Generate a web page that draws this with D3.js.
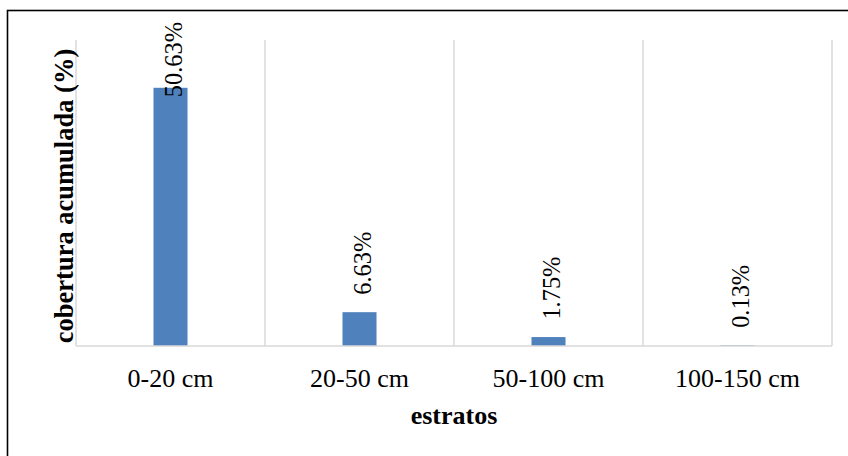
<!DOCTYPE html>
<html>
<head>
<meta charset="utf-8">
<script src="https://cdn.jsdelivr.net/npm/d3@7"></script>
<style>
  html, body { margin: 0; padding: 0; background: #fff; }
  svg { display: block; }
  text { font-family: "Liberation Serif", "Times New Roman", serif; fill: #000; }
</style>
</head>
<body>
<svg id="chart" width="848" height="456"></svg>
<script>
// Cumulative cover per height stratum
const categories = ["0-20 cm", "20-50 cm", "50-100 cm", "100-150 cm"];
const values = [50.63, 6.63, 1.75, 0.13];
const valueLabels = ["50.63%", "6.63%", "1.75%", "0.13%"];
const yDomain = [0, 60];
const xTitle = "estratos";
const yTitle = "cobertura acumulada (%)";

const serif = "'Liberation Serif', 'Times New Roman', serif";
const svg = d3.select("#chart");
const plot = { left: 76, right: 832, top: 40, bottom: 346 };

// Outer frame (runs off the right and bottom edges)
svg.append("rect")
  .attr("x", 7.5).attr("y", 10.5)
  .attr("width", 900).attr("height", 500)
  .attr("fill", "none").attr("stroke", "#000").attr("stroke-width", 1.6);

const xCat = d3.scaleBand().domain(categories).range([plot.left, plot.right]).padding(0);
const xBar = d3.scaleBand().domain(categories).range([plot.left, plot.right])
  .paddingInner(0.82).paddingOuter(0.41);
const y = d3.scaleLinear().domain(yDomain).range([plot.bottom, plot.top]);

// Vertical category separators
const bounds = categories.map(c => xCat(c)).concat([xCat(categories[categories.length - 1]) + xCat.bandwidth()]);
svg.append("g").selectAll("line").data(bounds).join("line")
  .attr("x1", d => d).attr("x2", d => d)
  .attr("y1", plot.top).attr("y2", plot.bottom)
  .attr("stroke", "#d9d9d9").attr("stroke-width", 1.5);

// Bars
svg.append("g").selectAll("rect").data(values).join("rect")
  .attr("x", (d, i) => xBar(categories[i]))
  .attr("width", xBar.bandwidth())
  .attr("y", d => y(d))
  .attr("height", d => y(0) - y(d))
  .attr("fill", "#4f81bd");

// Baseline drawn over the bars
svg.append("line")
  .attr("x1", plot.left).attr("x2", plot.right)
  .attr("y1", y(0)).attr("y2", y(0))
  .attr("stroke", "#d9d9d9").attr("stroke-width", 1.5);

// Rotated value labels above each bar, kept inside the frame
const labelSize = 24.4;
const labels = svg.append("g").selectAll("text").data(values).join("text")
  .attr("font-family", serif)
  .attr("font-size", labelSize)
  .attr("text-anchor", "start")
  .text((d, i) => valueLabels[i]);
labels.each(function (d, i) {
  const len = this.getComputedTextLength();
  const cx = xCat(categories[i]) + xCat.bandwidth() / 2 + 11;
  const start = Math.max(y(d) - 17.5, 22 + len);
  d3.select(this).attr("transform", `translate(${cx},${start}) rotate(-90)`);
});

// Category axis
const xAxis = svg.append("g")
  .attr("transform", `translate(0,387)`)
  .call(d3.axisBottom(xCat).tickSize(0).tickPadding(0));
xAxis.attr("font-family", serif);
xAxis.select(".domain").remove();
xAxis.selectAll("text")
  .attr("y", 0).attr("dy", 0)
  .attr("font-size", 26)
  .attr("fill", "#000");

// Axis titles
svg.append("text")
  .attr("x", (plot.left + plot.right) / 2).attr("y", 424)
  .attr("text-anchor", "middle")
  .attr("font-family", serif)
  .attr("font-size", 26).attr("font-weight", "bold")
  .text(xTitle);

svg.append("text")
  .attr("transform", `translate(73,${(plot.top + plot.bottom) / 2 + 3}) rotate(-90)`)
  .attr("text-anchor", "middle")
  .attr("font-family", serif)
  .attr("font-size", 26.5).attr("font-weight", "bold")
  .text(yTitle);
</script>
</body>
</html>
